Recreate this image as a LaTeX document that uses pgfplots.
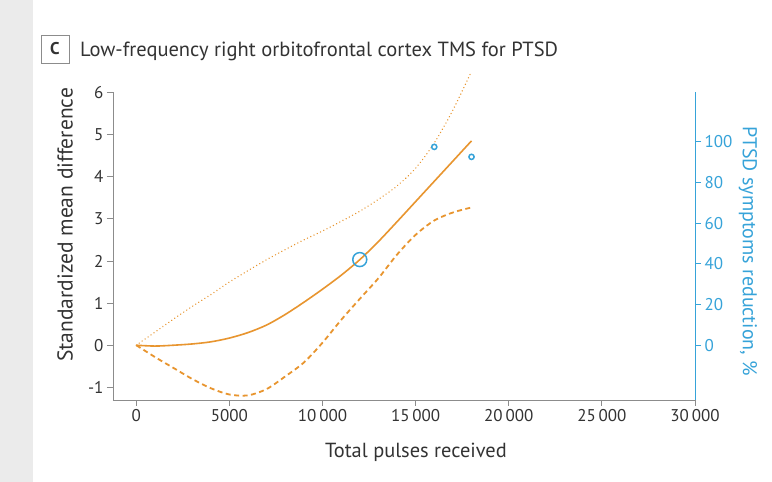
\documentclass[border=0pt]{standalone}
\usepackage{fontspec}
\setmainfont{PT Sans}
\usepackage{pgfplots}
\pgfplotsset{compat=1.18}
\definecolor{orangeline}{HTML}{E8952F}
\definecolor{bluepts}{HTML}{36A3D9}
\definecolor{axisgrey}{HTML}{8C8C8C}
\definecolor{textgrey}{HTML}{333333}

% Restricted cubic spline fit (SMD) and its 95% confidence bounds
\pgfplotstableread{
x      fit    lo     hi
0      0      0      0
1000  -0.02  -0.28   0.31
2000   0.00  -0.54   0.62
3000   0.03  -0.80   0.92
4000   0.08  -1.02   1.20
5000   0.17  -1.17   1.50
6000   0.30  -1.19   1.77
7000   0.48  -1.04   2.03
8000   0.73  -0.74   2.27
9000   1.02  -0.41   2.50
10000  1.33   0.06   2.71
11000  1.66   0.60   2.94
12000  2.03   1.10   3.18
13000  2.46   1.59   3.46
14000  2.93   2.15   3.78
15000  3.41   2.62   4.20
16000  3.89   2.96   4.80
17000  4.37   3.15   5.58
18000  4.85   3.27   6.50
}\smdcurve

% Individual studies (symptom reduction, %)
\pgfplotstableread{
x      pct    size
12000  42.1   7.0
16000  97.5   2.6
18000  92.6   2.6
}\studies

\begin{document}
\begin{tikzpicture}[x=1pt,y=1pt]
\fill[white] (0,0) rectangle (772,482);
\fill[black!8] (0,0) rectangle (33,482);
\useasboundingbox (0,0) rectangle (772,482);

% panel letter and title
\draw[axisgrey, line width=0.8pt] (41,419) rectangle (69,447);
\node[textgrey, font=\fontsize{17}{20}\selectfont\bfseries] at (55,433) {C};
\node[textgrey, anchor=base west, inner sep=0pt, font=\fontsize{20.5}{24}\selectfont]
  at (80,425) {Low-frequency right orbitofrontal cortex TMS for PTSD};

\begin{axis}[
  at={(113pt,82pt)}, anchor=south west,
  scale only axis, width=582pt, height=307.6pt,
  xmin=-1250, xmax=30000, ymin=-1.3, ymax=6,
  axis x line*=bottom, axis y line*=left,
  axis line style={-, axisgrey, line width=0.8pt},
  tick style={axisgrey, line width=0.8pt},
  tick align=outside, major tick length=6pt,
  scaled x ticks=false,
  xtick={0,5000,...,30000},
  xticklabels={0,5000,10\,000,15\,000,20\,000,25\,000,30\,000},
  ytick={-1,0,...,6},
  /pgf/number format/assume math mode=true,
  ticklabel style={font=\fontsize{17}{20}\selectfont, text=textgrey},
  xlabel={Total pulses received},
  ylabel={Standardized mean difference},
  xlabel style={font=\fontsize{20.4}{24}\selectfont, text=textgrey,
    at={(axis description cs:0.5206,-0.169)}, anchor=center},
  ylabel style={font=\fontsize{21.5}{25}\selectfont, text=textgrey,
    at={(axis description cs:-0.0825,0.569)}, anchor=center},
  clip=false,
]
\addplot[orangeline, line width=1.6pt, smooth, tension=0.5] table[x=x, y=fit] {\smdcurve};
\addplot[orangeline, line width=1.8pt, smooth, tension=0.5, dash pattern=on 5pt off 3.5pt] table[x=x, y=lo] {\smdcurve};
\addplot[orangeline, line width=1.5pt, smooth, tension=0.5, line cap=round, dash pattern=on 0.01pt off 3.6pt] table[x=x, y=hi] {\smdcurve};
\end{axis}

\begin{axis}[
  at={(113pt,82pt)}, anchor=south west,
  scale only axis, width=582pt, height=307.6pt,
  xmin=-1250, xmax=30000, ymin=-26.95, ymax=124.3,
  axis x line=none, axis y line*=right,
  axis line style={-, bluepts, line width=0.8pt},
  tick style={bluepts, line width=0.8pt},
  tick align=outside, major tick length=6pt,
  ytick={0,20,...,100},
  /pgf/number format/assume math mode=true,
  yticklabel style={font=\fontsize{17}{20}\selectfont, text=bluepts},
  ylabel={PTSD symptoms reduction, \%},
  ylabel style={font=\fontsize{20}{24}\selectfont, text=bluepts, rotate=180,
    at={(axis description cs:1.091,0.484)}, anchor=center},
  clip=false,
]
\addplot[only marks, mark=o, bluepts, line width=1.5pt,
  visualization depends on={\thisrow{size} \as \msize},
  scatter, scatter/use mapped color={draw=bluepts},
  scatter/@pre marker code/.append code={\pgfsetlinewidth{1.5pt}\pgfplotsset{mark size=\msize pt}}]
  table[x=x, y=pct] {\studies};
\end{axis}
\end{tikzpicture}
\end{document}
